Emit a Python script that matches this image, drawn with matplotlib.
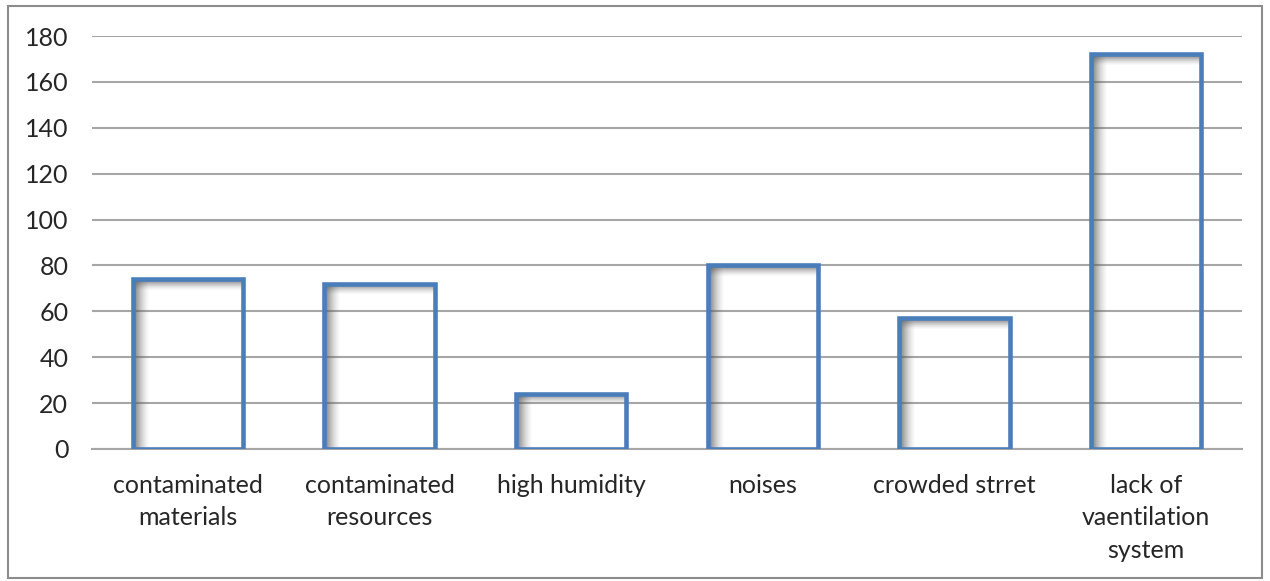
import numpy as np
import matplotlib
matplotlib.use("Agg")
import matplotlib.pyplot as plt
from matplotlib.patches import Rectangle

plt.rcParams['font.family'] = ['Lato', 'DejaVu Sans']

# dades
categories = ['contaminated\nmaterials', 'contaminated\nresources', 'high humidity',
              'noises', 'crowded strret', 'lack of\nvaentilation\nsystem']
valors = [74, 72, 24, 80, 57, 172]
y_ticks = [0, 20, 40, 60, 80, 100, 120, 140, 160, 180]

blau = '#4a7ebb'
gris = '#a6a6a6'
amplada = 0.575

fig = plt.figure(figsize=(12.7, 5.81), dpi=100)
ax = fig.add_axes([0.0724, 0.2272, 0.9056, 0.7108])

x = np.arange(len(categories))

# ombra interior (gradient a l'esquerra i a dalt de cada barra)
grad_h = (np.linspace(1, 0, 40) ** 1.5 * 0.85).reshape(1, -1)
grad_v = (np.linspace(1, 0, 40) ** 1.5 * 0.85).reshape(-1, 1)
for xi, v in zip(x, valors):
    x0 = xi - amplada / 2
    ax.imshow(np.dstack([np.full_like(grad_h, 0.35)] * 3 + [grad_h]),
              extent=(x0, x0 + 0.085, 0, v), aspect='auto', zorder=2,
              interpolation='bilinear')
    ax.imshow(np.dstack([np.full_like(grad_v, 0.35)] * 3 + [grad_v]),
              extent=(x0, x0 + amplada, v - 5, v), aspect='auto', zorder=2,
              interpolation='bilinear', origin='upper')

ax.bar(x, valors, width=amplada, facecolor='none', edgecolor=blau,
       linewidth=3.3, zorder=3)

ax.set_xlim(-0.5, len(categories) - 0.5)
ax.set_ylim(0, 180)
ax.set_yticks(y_ticks)
ax.set_xticks(x)
ax.set_xticklabels(categories, fontsize=18, color='#262626', linespacing=1.5)
ax.tick_params(axis='y', length=0, pad=17, labelsize=18, labelcolor='#262626')
ax.tick_params(axis='x', length=0, pad=18)
ax.yaxis.grid(True, color=gris, linewidth=1.5)
ax.set_axisbelow(True)
for s in ['top', 'right', 'left']:
    ax.spines[s].set_visible(False)
ax.spines['bottom'].set_color(gris)
ax.spines['bottom'].set_linewidth(1.5)

# marc exterior
fig.patches.append(Rectangle((8 / 1270, 3 / 581), 1254 / 1270, 572 / 581,
                             transform=fig.transFigure, fill=False,
                             edgecolor='#8c8c8c', linewidth=1.5))

fig.savefig('out.png', dpi=100)
